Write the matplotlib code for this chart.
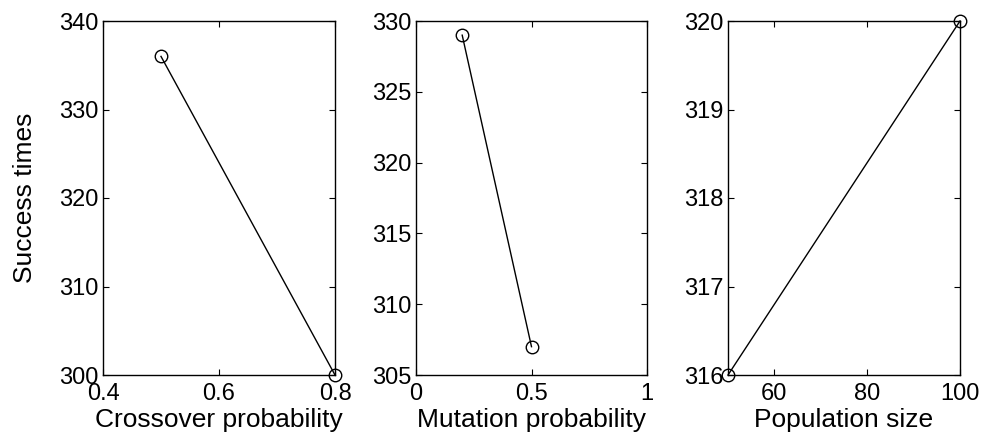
import matplotlib
matplotlib.use('Agg')
import matplotlib.pyplot as plt

# data
crossover_x = [0.5, 0.8]
crossover_y = [336, 300]
mutation_x = [0.2, 0.5]
mutation_y = [329, 307]
population_x = [50, 100]
population_y = [316, 320]

xlabels = ['Crossover probability', 'Mutation probability', 'Population size']
xlims = [(0.4, 0.8), (0, 1), (50, 100)]
ylims = [(300, 340), (305, 330), (316, 320)]
xticks = [[0.4, 0.6, 0.8], [0, 0.5, 1], [60, 80, 100]]
xticklabels = [['0.4', '0.6', '0.8'], ['0', '0.5', '1'], ['60', '80', '100']]
yticks = [[300, 310, 320, 330, 340], [305, 310, 315, 320, 325, 330], [316, 317, 318, 319, 320]]

plt.rcParams['font.family'] = ['Liberation Sans', 'DejaVu Sans']
plt.rcParams['font.size'] = 17

fig = plt.figure(figsize=(9.84, 4.41), dpi=100)
W, H = 984.0, 441.0
boxes = [(103, 335), (416, 647), (728, 960)]
top, bottom = 21, 375

series = [(crossover_x, crossover_y), (mutation_x, mutation_y), (population_x, population_y)]
for k, (x, y) in enumerate(series):
    l, r = boxes[k]
    ax = fig.add_axes([l / W, 1 - bottom / H, (r - l) / W, (bottom - top) / H])
    ax.plot(x, y, '-', color='black', linewidth=1.0, marker='o', markersize=9,
            markerfacecolor='none', markeredgecolor='black', markeredgewidth=1.0,
            clip_on=False)
    ax.set_xlim(*xlims[k])
    ax.set_ylim(*ylims[k])
    ax.set_xticks(xticks[k])
    ax.set_xticklabels(xticklabels[k])
    ax.set_yticks(yticks[k])
    ax.tick_params(direction='in', top=True, right=True, length=4, width=0.8,
                   labelsize=17)
    ax.tick_params(axis='x', pad=6)
    ax.tick_params(axis='y', pad=3)
    ax.set_xlabel(xlabels[k], fontsize=19, labelpad=2)
    for s in ax.spines.values():
        s.set_linewidth(1.0)
    if k == 0:
        ax.set_ylabel('Success times', fontsize=19, labelpad=16)

fig.savefig('out.png', dpi=100)
